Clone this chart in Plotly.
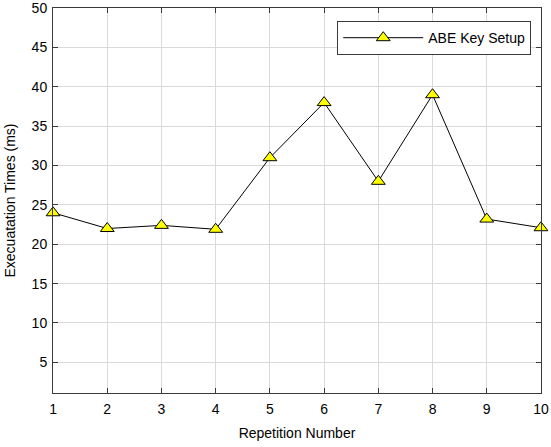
import plotly.graph_objects as go

repetitions = [1, 2, 3, 4, 5, 6, 7, 8, 9, 10]
exec_times = [24.0, 22.0, 22.4, 21.9, 31.0, 38.0, 28.0, 39.0, 23.2, 22.1]
series_name = "ABE Key Setup"
x_ticks = list(range(1, 11))
y_ticks = list(range(5, 51, 5))

FONT = "Liberation Sans, Arial"

fig = go.Figure()
fig.add_trace(go.Scatter(
    x=repetitions, y=exec_times, mode="lines+markers", name=series_name,
    line=dict(color="black", width=1),
    marker=dict(symbol="triangle-up", size=12, color="#ffff00",
                line=dict(color="black", width=1)),
    cliponaxis=False,
))

axis_common = dict(
    showline=True, linecolor="#3a3a3a", linewidth=1, mirror="ticks",
    ticks="inside", ticklen=5, tickcolor="#3a3a3a",
    showgrid=True, gridcolor="#d9d9d9", gridwidth=1, zeroline=False,
    automargin=False, ticklabeloverflow="allow",
    tickfont=dict(family=FONT, size=14, color="black"),
)

fig.update_xaxes(range=[0.999, 10.001], tickvals=x_ticks, ticklabelstandoff=3,
                 title=dict(text="Repetition Number", standoff=12,
                            font=dict(family=FONT, size=14, color="black")),
                 **axis_common)
fig.update_yaxes(range=[1.1, 50.02], tickvals=y_ticks, ticklabelstandoff=2,
                 title=dict(text="Execuatation Times (ms)", standoff=12,
                            font=dict(family=FONT, size=14, color="black")),
                 **axis_common)

fig.update_layout(
    width=551, height=447,
    margin=dict(l=53, r=10, t=8, b=54),
    plot_bgcolor="white", paper_bgcolor="white",
    showlegend=True,
    legend=dict(x=0.98, y=0.966, xanchor="right", yanchor="top",
                bgcolor="white", bordercolor="#3a3a3a", borderwidth=1,
                font=dict(family=FONT, size=14, color="black"),
                itemwidth=80),
    font=dict(family=FONT, size=14, color="black"),
)

fig.write_html("out.html", config={"displayModeBar": False},
               post_script="document.body.style.margin='0';document.body.style.padding='0';")
